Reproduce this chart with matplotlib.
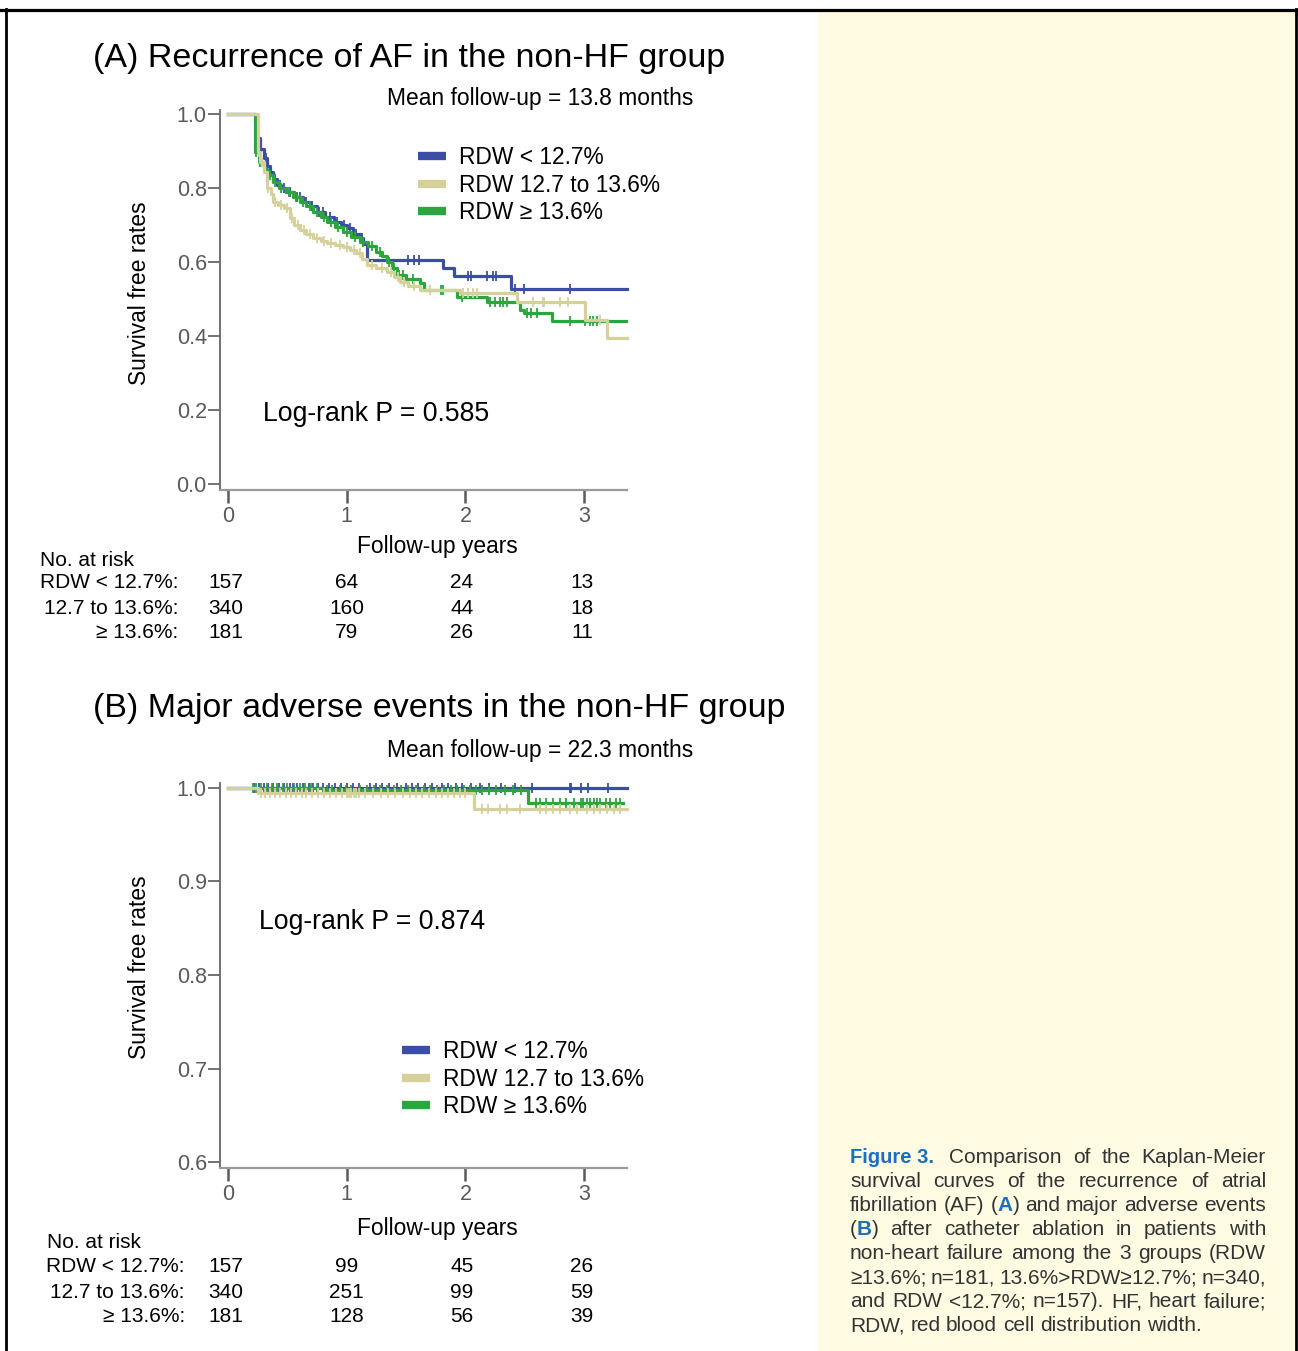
import numpy as np
import matplotlib
matplotlib.use("Agg")
import matplotlib.pyplot as plt
from matplotlib.lines import Line2D
from matplotlib.patches import Rectangle
from matplotlib.transforms import Affine2D, blended_transform_factory

plt.rcParams["font.family"] = ["Liberation Sans", "DejaVu Sans"]

W, H = 1298, 1351

# ---- shared ----
groups = ["RDW < 12.7%", "RDW 12.7 to 13.6%", "RDW \u2265 13.6%"]
risk_labels = ["RDW < 12.7%:", "12.7 to 13.6%:", "\u2265 13.6%:"]
colors = ["#3b4ea3", "#d6d19b", "#2ca53d"]
risk_years = [0, 1, 2, 3]

# ---- panel A: recurrence of AF ----
a_blue_t = [0, 0.24, 0.27, 0.30, 0.33, 0.35, 0.38, 0.41, 0.45, 0.49, 0.56, 0.63, 0.69,
            0.75, 0.82, 0.89, 0.95, 1.00, 1.05, 1.11, 1.14, 1.17, 1.81, 1.90, 2.38]
a_blue_s = [1.0, 0.934, 0.905, 0.880, 0.860, 0.844, 0.825, 0.808, 0.800, 0.790, 0.777, 0.763, 0.750,
            0.736, 0.722, 0.709, 0.700, 0.691, 0.677, 0.664, 0.648, 0.605, 0.583, 0.562, 0.526]
a_blue_cens = [0.25, 0.28, 0.32, 0.36, 0.40, 0.44, 0.47, 0.52, 0.58, 0.61, 0.66, 0.71, 0.77, 0.80,
               0.86, 0.92, 0.98, 1.03, 1.08, 1.13, 1.52, 1.57, 1.61, 2.02, 2.05, 2.18, 2.23, 2.26,
               2.42, 2.49, 2.88]
a_yel_t = [0, 0.25, 0.27, 0.30, 0.33, 0.36, 0.38, 0.42, 0.47, 0.52, 0.56, 0.61, 0.66, 0.72, 0.78,
           0.83, 0.90, 0.97, 1.03, 1.08, 1.13, 1.17, 1.25, 1.34, 1.40, 1.45, 1.52, 1.62, 1.95,
           2.43, 3.01, 3.19]
a_yel_s = [1.0, 0.898, 0.870, 0.844, 0.800, 0.785, 0.763, 0.755, 0.745, 0.718, 0.700, 0.686, 0.675,
           0.664, 0.657, 0.650, 0.645, 0.641, 0.633, 0.624, 0.608, 0.592, 0.583, 0.574, 0.560,
           0.547, 0.535, 0.524, 0.515, 0.493, 0.443, 0.394]
a_yel_cens = [0.26, 0.29, 0.34, 0.40, 0.45, 0.50, 0.54, 0.59, 0.64, 0.69, 0.75, 0.81, 0.87, 0.94,
              1.00, 1.06, 1.11, 1.21, 1.30, 1.37, 1.43, 1.48, 1.57, 1.70, 1.98, 2.02, 2.06, 2.10,
              2.57, 2.65, 2.66, 2.80, 2.86, 3.13]
a_green_t = [0, 0.23, 0.26, 0.30, 0.33, 0.38, 0.43, 0.49, 0.55, 0.61, 0.66, 0.72, 0.78, 0.83,
             0.90, 0.97, 1.04, 1.11, 1.18, 1.25, 1.30, 1.34, 1.38, 1.42, 1.50, 1.62, 1.65, 1.93,
             2.18, 2.46, 2.49, 2.73]
a_green_s = [1.0, 0.898, 0.870, 0.850, 0.835, 0.817, 0.800, 0.790, 0.777, 0.763, 0.750, 0.736,
             0.722, 0.709, 0.695, 0.682, 0.668, 0.655, 0.642, 0.628, 0.615, 0.601, 0.583, 0.565,
             0.555, 0.542, 0.524, 0.506, 0.493, 0.470, 0.461, 0.440]
a_green_cens = [0.24, 0.27, 0.31, 0.35, 0.40, 0.45, 0.51, 0.57, 0.63, 0.69, 0.75, 0.81, 0.87,
                0.93, 1.00, 1.07, 1.14, 1.21, 1.28, 1.36, 1.40, 1.44, 1.47, 1.56, 1.79, 1.81,
                1.97, 2.21, 2.25, 2.29, 2.32, 2.35, 2.52, 2.55, 2.60, 2.88, 3.01, 3.05, 3.07, 3.11]
a_end = [3.36, 3.36, 3.35]
a_risk = [[157, 64, 24, 13], [340, 160, 44, 18], [181, 79, 26, 11]]

# ---- panel B: major adverse events ----
b_blue_t = [0]
b_blue_s = [1.0]
b_blue_cens = [0.22, 0.26, 0.30, 0.34, 0.38, 0.43, 0.47, 0.52, 0.55, 0.58, 0.63, 0.68, 0.72,
               0.76, 0.80, 0.85, 0.90, 0.95, 1.00, 1.05, 1.10, 1.20, 1.25, 1.30, 1.36, 1.42,
               1.50, 1.55, 1.60, 1.66, 1.72, 1.80, 1.85, 1.92, 1.97, 2.05, 2.12, 2.20, 2.30,
               2.42, 2.56, 2.88, 2.89, 2.97, 3.03, 3.20]
b_yel_t = [0, 0.25, 2.07]
b_yel_s = [1.0, 0.995, 0.978]
b_yel_cens = [0.28, 0.31, 0.35, 0.40, 0.44, 0.49, 0.53, 0.57, 0.62, 0.66, 0.71, 0.76, 0.81,
              0.86, 0.91, 0.96, 1.00, 1.02, 1.04, 1.06, 1.08, 1.10, 1.15, 1.22, 1.29, 1.35,
              1.41, 1.47, 1.53, 1.58, 1.63, 1.69, 1.75, 1.80, 1.85, 1.90, 1.95, 2.00, 2.14,
              2.19, 2.29, 2.35, 2.46, 2.63, 2.68, 2.74, 2.80, 2.88, 2.94, 3.02, 3.08, 3.13,
              3.19, 3.25, 3.30]
b_green_t = [0, 0.80, 2.53]
b_green_s = [1.0, 0.998, 0.984]
b_green_cens = [0.21, 0.24, 0.28, 0.33, 0.37, 0.41, 0.46, 0.50, 0.56, 0.61, 0.65, 0.70, 0.75,
                0.83, 0.88, 0.94, 0.99, 1.04, 1.11, 1.17, 1.23, 1.28, 1.34, 1.40, 1.46, 1.52,
                1.58, 1.65, 1.70, 1.76, 1.82, 1.88, 1.93, 1.99, 2.04, 2.09, 2.14, 2.20, 2.26,
                2.33, 2.40, 2.47, 2.59, 2.63, 2.68, 2.74, 2.80, 2.85, 2.91, 2.97, 2.99, 3.02,
                3.05, 3.08, 3.11, 3.13, 3.18, 3.22, 3.27, 3.30]
b_end = [3.36, 3.36, 3.33]
b_risk = [[157, 99, 45, 26], [340, 251, 99, 59], [181, 128, 56, 39]]

caption_head = "Figure 3."
caption_lines = [
    "Comparison of the Kaplan-Meier",
    "survival curves of the recurrence of atrial",
    "fibrillation (AF) (*A*) and major adverse events",
    "(*B*) after catheter ablation in patients with",
    "non-heart failure among the 3 groups (RDW",
    "\u226513.6%; n=181, 13.6%>RDW\u226512.7%; n=340,",
    "and RDW <12.7%; n=157). HF, heart failure;",
    "RDW, red blood cell distribution width.",
]

fig = plt.figure(figsize=(W / 100, H / 100), dpi=100)
pix = Affine2D().scale(1 / W, -1 / H).translate(0, 1) + fig.transFigure

# page frame and caption box
fig.patches.append(Rectangle((818, 10), 1296 - 818, H - 10, transform=pix,
                             facecolor="#fffbe2", edgecolor="none", zorder=0))
fig.add_artist(Line2D([0, W], [9.5, 9.5], transform=pix, color="black", lw=2.3))
fig.add_artist(Line2D([6, 6], [9, H], transform=pix, color="black", lw=2.0))
fig.add_artist(Line2D([1296, 1296], [9, H], transform=pix, color="black", lw=2.0))

narrow = ["Liberation Sans Narrow", "Liberation Sans", "DejaVu Sans"]
num_shift = [-0.02, 0.0, -0.03, -0.02]  # small nudges of the risk-table columns


def km(ax, t, s, cens, end, color, z):
    t = np.asarray(t, float)
    s = np.asarray(s, float)
    ax.step(np.append(t, end), np.append(s, s[-1]), where="post", color=color, lw=2.3,
            zorder=z, clip_on=False)
    c = np.asarray(cens, float)
    idx = np.searchsorted(t, c, side="right") - 1
    ax.plot(c, s[idx], ls="none", marker="|", ms=7, mew=1.3, color=color, zorder=z,
            clip_on=False)


def setup(ax, ylim, yticks):
    ax.set_xlim(-0.067, 3.36)
    ax.set_ylim(*ylim)
    ax.patch.set_alpha(0)
    for sp in ["top", "right"]:
        ax.spines[sp].set_visible(False)
    ax.spines["left"].set_color("#666666")
    ax.spines["bottom"].set_color("#9a9a9a")
    ax.spines["left"].set_linewidth(1.3)
    ax.spines["bottom"].set_linewidth(1.6)
    ax.set_xticks(risk_years)
    ax.set_yticks(yticks)
    ax.set_yticklabels([f"{v:.1f}" for v in yticks])
    ax.tick_params(axis="y", length=8.5, width=1.2, pad=1, colors="#5a5a5a", labelsize=15.5)
    ax.tick_params(axis="x", length=9.5, width=1.8, pad=2, colors="#5a5a5a", labelsize=15.5)
    for lab in ax.get_xticklabels() + ax.get_yticklabels():
        lab.set_family(narrow)


def panel(ax, series, ends, risk, title_y, title, mean_y, mean_txt, lr_xy, lr_txt,
          leg_xy, ylab_y, xlab_y, nar_xy, rows_y, lab_right):
    order = [0, 2, 1]
    zs = {0: 3, 2: 4, 1: 5}
    for i in order:
        t, s, c = series[i]
        km(ax, t, s, c, ends[i], colors[i], zs[i])
    handles = [Line2D([], [], color=c, lw=6, solid_capstyle="butt") for c in colors]
    ax.legend(handles, groups, loc="upper left", bbox_to_anchor=leg_xy, bbox_transform=pix,
              frameon=False, fontsize=16.4, handlelength=1.25, handletextpad=0.55,
              labelspacing=0.2, borderpad=0, borderaxespad=0)
    fig.text(93, title_y, title, transform=pix, fontsize=24.5, va="center", ha="left")
    fig.text(387, mean_y, mean_txt, transform=pix, fontsize=16.4, va="center", ha="left")
    fig.text(lr_xy[0], lr_xy[1], lr_txt, transform=pix, fontsize=19.2, va="center", ha="left")
    fig.text(139, ylab_y, "Survival free rates", transform=pix, fontsize=16.4, rotation=90,
             va="center", ha="center")
    fig.text(437, xlab_y, "Follow-up years", transform=pix, fontsize=16.4, va="center",
             ha="center")
    fig.text(nar_xy[0], nar_xy[1], "No. at risk", transform=pix, fontsize=15, va="center",
             ha="left")
    trans = blended_transform_factory(ax.transData, pix)
    for k in range(3):
        fig.text(lab_right, rows_y[k], risk_labels[k], transform=pix, fontsize=15,
                 va="center", ha="right")
        for j, yr in enumerate(risk_years):
            ax.text(yr + num_shift[j], rows_y[k], str(risk[k][j]), transform=trans, fontsize=15,
                    va="center", ha="center", clip_on=False)


axA = fig.add_axes([220 / W, 1 - 490 / H, 407 / W, 380 / H])
setup(axA, (-0.0162, 1.0108), [0.0, 0.2, 0.4, 0.6, 0.8, 1.0])
panel(axA,
      [(a_blue_t, a_blue_s, a_blue_cens), (a_yel_t, a_yel_s, a_yel_cens),
       (a_green_t, a_green_s, a_green_cens)],
      a_end, a_risk, 58, "(A) Recurrence of AF in the non-HF group",
      99, "Mean follow-up = 13.8 months", (263, 414), "Log-rank P = 0.585",
      (418, 146), 293, 547, (40, 560), [583, 608, 633], 178)

axB = fig.add_axes([220 / W, 1 - 1168 / H, 407 / W, 385 / H])
setup(axB, (0.5936, 1.0053), [0.6, 0.7, 0.8, 0.9, 1.0])
panel(axB,
      [(b_blue_t, b_blue_s, b_blue_cens), (b_yel_t, b_yel_s, b_yel_cens),
       (b_green_t, b_green_s, b_green_cens)],
      b_end, b_risk, 708, "(B) Major adverse events in the non-HF group",
      751, "Mean follow-up = 22.3 months", (259, 922), "Log-rank P = 0.874",
      (402, 1040), 967, 1229, (47, 1243), [1267, 1292, 1317], 185)

# ---- justified caption ----
r = fig.canvas.get_renderer()
cap_kw = dict(fontsize=15, color="#333333")
blue_kw = dict(fontsize=15, color="#1f6fb4", fontweight="bold")


def make_word(word):
    parts = []
    for i, p in enumerate(word.split("*")):
        if p:
            t = fig.text(0, 0, p, transform=pix, va="baseline", ha="left",
                         **(blue_kw if i % 2 else cap_kw))
            parts.append((t, t.get_window_extent(r).width))
    return parts


def put_word(parts, x, y):
    for t, w in parts:
        t.set_position((x, y))
        x += w
    return x


probe1 = fig.text(0, 0, "a a", transform=pix, **cap_kw)
probe2 = fig.text(0, 0, "aa", transform=pix, **cap_kw)
space_w = probe1.get_window_extent(r).width - probe2.get_window_extent(r).width
probe1.remove()
probe2.remove()

left, right, base0, step = 850, 1266, 1163, 24
fig.text(left, base0, caption_head, transform=pix, va="baseline", ha="left",
         fontsize=14.5, fontweight="bold", color="#1b6ec2", family=narrow)
for n, line in enumerate(caption_lines):
    y = base0 + n * step
    x0 = 949 if n == 0 else left
    words = [make_word(w) for w in line.split(" ")]
    widths = [sum(w for _, w in p) for p in words]
    if n == len(caption_lines) - 1:
        gap = space_w
    else:
        gap = (right - x0 - sum(widths)) / (len(words) - 1)
    x = x0
    for p, w in zip(words, widths):
        put_word(p, x, y)
        x += w + gap

fig.savefig("out.png", dpi=100)
